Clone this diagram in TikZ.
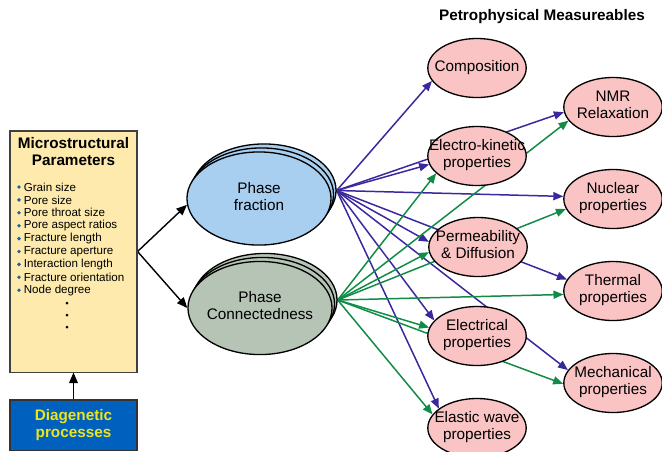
\documentclass[tikz,border=0pt]{standalone}
\usepackage{fontspec}
\setmainfont{Liberation Sans}
\usetikzlibrary{shapes.geometric,arrows.meta,backgrounds}
\definecolor{prop-pink}{RGB}{250,196,196}
\definecolor{frac-blue}{RGB}{168,206,240}
\definecolor{conn-grey}{RGB}{182,196,182}
\definecolor{micro-yellow}{RGB}{253,234,172}
\definecolor{diag-blue}{RGB}{0,96,190}
\definecolor{diag-yellow}{RGB}{238,228,28}
\definecolor{arr-blue}{RGB}{58,40,158}
\definecolor{arr-green}{RGB}{16,140,70}
\definecolor{dot-blue}{RGB}{30,100,160}
%text that does not widen the ellipse
\newcommand{\inell}[1]{\hbox to 0pt{\hss\begin{tabular}{@{}c@{}}#1\end{tabular}\hss}}
\tikzset{
	prop/.style={ellipse,draw=black,line width=0.75pt,fill=prop-pink,inner sep=0pt,
		minimum width=56pt,minimum height=33.6pt,font=\fontsize{8.7}{9.7}\selectfont},
	phase/.style={ellipse,draw=black,line width=0.75pt,inner sep=0pt,
		minimum width=82pt,minimum height=53pt,font=\fontsize{8.7}{9.7}\selectfont},
	bluearrow/.style={draw=arr-blue,line width=0.85pt,-{Triangle[length=5.7pt,width=4.6pt]}},
	greenarrow/.style={draw=arr-green,line width=0.85pt,-{Triangle[length=5.7pt,width=4.6pt]}},
	blackarrow/.style={draw=black,line width=0.8pt,-{Triangle[length=6pt,width=5pt]}},
	listitem/.style={anchor=west,inner sep=0pt,font=\fontsize{6.6}{7.4}\selectfont}
}

\begin{document}
\begin{tikzpicture}[x=0.02cm,y=-0.02cm]
	\useasboundingbox (0,0) rectangle (662,451);
	
	%heading
	\node[font=\bfseries\fontsize{8.7}{9.7}\selectfont] (head) at (542,17) {Petrophysical Measureables};
	
	%microstructural box
	\node[draw=black!75,line width=0.6pt,fill=micro-yellow,minimum width=72.3pt,minimum height=137.2pt] (mic) at (73.5,251.5) {};
	\node[font=\bfseries\fontsize{8.7}{9.7}\selectfont,align=center] (mic-title) at (73.5,151.5) {Microstructural\\Parameters};
	\foreach \t [count=\i from 0] in {Grain size,Pore size,Pore throat size,Pore aspect ratios,Fracture length,
		Fracture aperture,Interaction length,Fracture orientation,Node degree}{
		\fill[dot-blue] (19,187+12.9*\i) circle (1.1pt);
		\node[listitem] (item-\i) at (23.5,187+12.9*\i) {\t};
	}
	\foreach \y in {303,315,327}{
		\fill[black] (67,\y) circle (0.85pt);
	}
	
	%diagenetic box
	\node[draw=black!80,line width=0.6pt,fill=diag-blue,text=diag-yellow,align=center,
		minimum width=72.3pt,minimum height=28.5pt,font=\bfseries\fontsize{8.7}{10.2}\selectfont] (diag) at (73.5,425) {Diagenetic\\processes};
	
	%phase ellipses, stacked
	\foreach \k in {2,1}{
		\node[phase,fill=frac-blue] (frac-\k) at (259+2.5*\k,198.5-4*\k) {};
		\node[phase,fill=conn-grey] (conn-\k) at (260+2.5*\k,308-4*\k) {};
	}
	\node[phase,fill=frac-blue] (frac) at (259,198.5) {\inell{Phase\\fraction}};
	\node[phase,fill=conn-grey] (conn) at (260,308) {\inell{Phase\\Connectedness}};
	
	%measureables
	\node[prop] (comp) at (477,68) {\inell{Composition}};
	\node[prop] (elkin) at (477,156) {\inell{Electro-kinetic\\properties}};
	\node[prop] (perm) at (478,247) {\inell{Permeability\\\& Diffusion}};
	\node[prop] (elec) at (477,336) {\inell{Electrical\\properties}};
	\node[prop] (elast) at (477,428) {\inell{Elastic wave\\properties}};
	\node[prop] (nmr) at (613,107) {\inell{NMR\\Relaxation}};
	\node[prop] (nucl) at (613,199) {\inell{Nuclear\\properties}};
	\node[prop] (therm) at (613,291) {\inell{Thermal\\properties}};
	\node[prop] (mech) at (613,383) {\inell{Mechanical\\properties}};
	
	\begin{scope}[on background layer]
		%inputs
		\draw[blackarrow] (diag.north) -- (mic.south);
		\draw[blackarrow] (mic.east) -- (frac.185);
		\draw[blackarrow] (mic.east) -- (conn.west);
		%phase fraction
		\foreach \a in {comp.196,elkin.190,nmr.186,nucl.177,perm.174,therm.166,mech.164,elec.160,elast.153}{
			\draw[bluearrow] (frac-2.east) -- (\a);
		}
		%phase connectedness
		\foreach \a in {elkin.203,nmr.197,nucl.192,perm.186,therm.184,elec.170,mech.181,elast.163}{
			\draw[greenarrow] (conn-2.east) -- (\a);
		}
	\end{scope}
\end{tikzpicture}
\end{document}
